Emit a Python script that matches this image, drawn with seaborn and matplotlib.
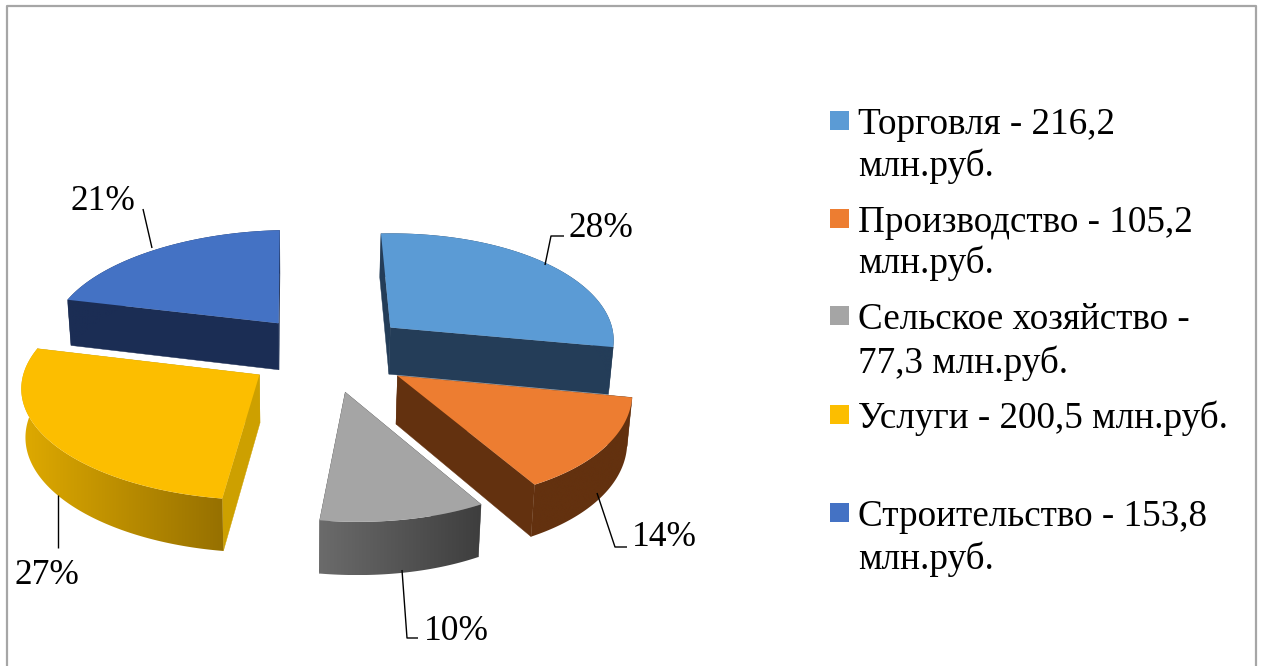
import numpy as np
import matplotlib
matplotlib.use("Agg")
import matplotlib.pyplot as plt
from matplotlib.colors import LinearSegmentedColormap
from matplotlib.patches import Polygon
import seaborn as sns

# ---- data ----
sectors = ["Торговля", "Производство", "Сельское хозяйство", "Услуги", "Строительство"]
values = [216.2, 105.2, 77.3, 200.5, 153.8]
pct_labels = ["28%", "14%", "10%", "27%", "21%"]
legend_lines = [
    ["Торговля - 216,2", "млн.руб."],
    ["Производство - 105,2", "млн.руб."],
    ["Сельское хозяйство -", "77,3 млн.руб."],
    ["Услуги - 200,5 млн.руб."],
    ["Строительство - 153,8", "млн.руб."],
]
top_colors = ["#5b9bd5", "#ed7d31", "#a5a5a5", "#fcbe00", "#4472c4"]
cut_colors = ["#243d58", "#63310f", "#555555", "#cda000", "#1b2d54"]
arc_from = ["#243d58", "#63310f", "#6b6b6b", "#dfaa00", "#1b2d54"]
arc_to = ["#243d58", "#63310f", "#3e3e3e", "#967000", "#1b2d54"]

# ---- projection of the exploded pie ----
CX, CY = 323.5, 352.5
A, B, K = 229.0, 108.0, 0.10
Q = -2.4
EXPLODE = 0.36
DEPTH = 47.5
START = np.deg2rad(0.0)
SKEW = 3.8e-4
SKEW_Y0 = 230.0
ROLL = 0.022

sns.set_theme(style="white")
plt.rcParams["font.family"] = ["Liberation Serif", "DejaVu Serif"]
FS_PCT = 25.5
FS_LEG = 26.7

fig, ax = plt.subplots(figsize=(12.62, 6.66), dpi=100)
ax.set_position([0, 0, 1, 1])
ax.axis("off")


def project(x, y):
    w = 1 + K * y
    px = (A * x + Q * x ** 2) / w
    py = CY - B * y / w
    return CX + px + SKEW * (py - SKEW_Y0) ** 2, py - ROLL * px


def drop(px, py):
    """Point on the lower face under a point of the upper face."""
    return CX - 26 + (px - CX + 26) * 0.985, py + DEPTH * (1 + (py - CY) / 1400)


vals = np.asarray(values, dtype=float)
edges = START + np.concatenate([[0], np.cumsum(vals)]) / vals.sum() * 2 * np.pi
order = [4, 0, 3, 1, 2]

for rank, i in enumerate(order):
    t0, t1 = edges[i], edges[i + 1]
    mid = (t0 + t1) / 2
    ox, oy = EXPLODE * np.sin(mid), EXPLODE * np.cos(mid)
    theta = np.linspace(t0, t1, 120)
    ex, ey = project(ox + np.sin(theta), oy + np.cos(theta))
    apx, apy = project(ox, oy)
    z = 2 + rank

    # cut faces
    for qx, qy in ((ex[0], ey[0]), (ex[-1], ey[-1])):
        p0, p1 = drop(apx, apy), drop(qx, qy)
        ax.add_patch(Polygon([(apx, apy), (qx, qy), p1, p0], closed=True, facecolor=cut_colors[i],
                             edgecolor=cut_colors[i], lw=0.3, zorder=z))
    # outer curved face, shaded from left to right
    bx, by = drop(ex, ey)
    side = Polygon(np.column_stack([np.r_[ex, bx[::-1]], np.r_[ey, by[::-1]]]), closed=True,
                   facecolor="none", edgecolor="none", zorder=z)
    ax.add_patch(side)
    cmap = LinearSegmentedColormap.from_list(f"side{i}", [arc_from[i], arc_to[i]])
    im = ax.imshow(np.linspace(0, 1, 256)[None, :], cmap=cmap, aspect="auto", interpolation="bilinear",
                   extent=(min(ex.min(), bx.min()), max(ex.max(), bx.max()),
                           max(ey.max(), by.max()), min(ey.min(), by.min())), zorder=z + 0.1)
    im.set_clip_path(side)
    # upper face
    ax.add_patch(Polygon(np.column_stack([np.r_[apx, ex], np.r_[apy, ey]]), closed=True,
                         facecolor=top_colors[i], edgecolor="none", zorder=z + 0.5))

# ---- leaders and percentage labels ----
leaders = [
    [(545, 265), (551, 236), (564, 236)],
    [(597, 493), (615, 547), (627, 547)],
    [(402, 570), (407, 638), (418, 638)],
    [(57.5, 495), (57.5, 548)],
    [(152, 248), (143, 209)],
]
label_xy = [(568, 237), (632, 546), (424, 640), (15, 584), (70, 210)]
for i, txt in enumerate(pct_labels):
    xs, ys = zip(*leaders[i])
    ax.plot(xs, ys, color="black", lw=1.0, zorder=10, solid_capstyle="butt")
    ax.text(*label_xy[i], txt, fontsize=FS_PCT, color="black", ha="left", va="baseline", zorder=11)

# ---- legend ----
legend_base = [[134, 176], [232, 273], [329, 373], [428], [526, 569]]
for i, lines in enumerate(legend_lines):
    first = legend_base[i][0]
    ax.add_patch(plt.Rectangle((830, first - 23), 19, 19, facecolor=top_colors[i], edgecolor="none"))
    for txt, y in zip(lines, legend_base[i]):
        ax.text(858, y, txt, fontsize=FS_LEG, color="black", ha="left", va="baseline")

# ---- chart frame (open at the bottom edge of the picture) ----
frame = "#a6a6a6"
ax.plot([6.5, 6.5, 1255.5, 1255.5], [666, 5.5, 5.5, 666], color=frame, lw=1.6, zorder=1)

ax.set_xlim(0, 1262)
ax.set_ylim(666, 0)
fig.savefig("out.png", dpi=100, facecolor="white")
